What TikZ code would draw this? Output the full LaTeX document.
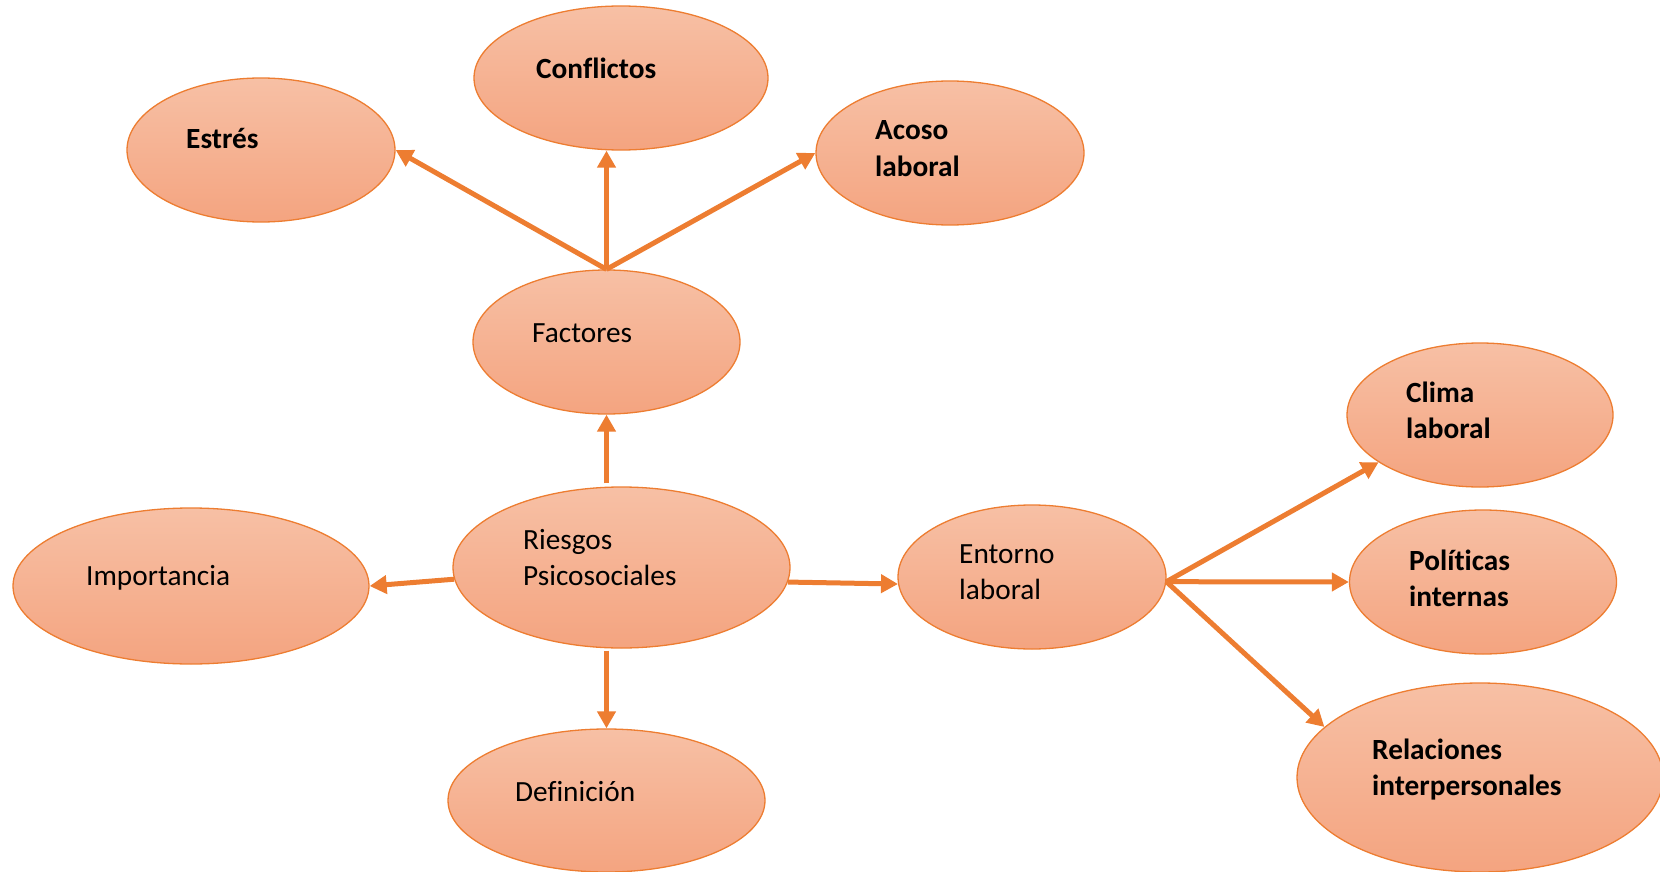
\documentclass[tikz,border=0pt]{standalone}
\usepackage{fontspec}
\setmainfont[Ligatures=NoCommon]{Carlito}
\usetikzlibrary{shapes.geometric,arrows.meta}
\definecolor{edgeor}{RGB}{237,125,49}
\definecolor{filltop}{RGB}{247,192,165}
\definecolor{fillbot}{RGB}{244,164,128}
\tikzset{
  bubble/.style={ellipse, draw=edgeor, line width=1.3pt, top color=filltop, bottom color=fillbot, inner sep=0pt},
  arr/.style={draw=edgeor, line width=5pt, -{Triangle[length=17pt,width=18pt]}},
  lbl/.style={anchor=base west, inner sep=0pt, font=\fontsize{29.3}{36}\selectfont, align=left},
  blbl/.style={lbl, font=\fontsize{29.3}{36}\selectfont\bfseries}
}
\begin{document}
\begin{tikzpicture}[x=1pt,y=-1pt]
\useasboundingbox (0,0) rectangle (1660,872);
% ellipses
\node[bubble, minimum width=268pt, minimum height=144pt] (est) at (261,150) {};
\node[bubble, minimum width=294pt, minimum height=144pt] (con) at (621,78) {};
\node[bubble, minimum width=268pt, minimum height=144pt] (aco) at (950,153) {};
\node[bubble, minimum width=267pt, minimum height=144pt] (fac) at (606.5,342) {};
\node[bubble, minimum width=337pt, minimum height=161pt] (ries) at (621.5,567.5) {};
\node[bubble, minimum width=356pt, minimum height=156pt] (imp) at (191,586) {};
\node[bubble, minimum width=317pt, minimum height=143pt] (def) at (606.5,800.5) {};
\node[bubble, minimum width=268pt, minimum height=144pt] (ent) at (1032,577) {};
\node[bubble, minimum width=266pt, minimum height=144pt] (cli) at (1480,415) {};
\node[bubble, minimum width=267pt, minimum height=144pt] (pol) at (1483,582) {};
\node[bubble, minimum width=366pt, minimum height=189pt] (rel) at (1480,777.5) {};
% texts (anchored at the baseline of the last line)
\node[blbl] (tEst) at (186,149) {Estrés};
\node[blbl] (tCon) at (536,79) {Conflictos};
\node[blbl] (tAco) at (875,176) {Acoso\\laboral};
\node[lbl] (tFac) at (532,342) {Factores};
\node[lbl] (tRies) at (523,585) {Riesgos\\Psicosociales};
\node[lbl] (tImp) at (86,585) {Importancia};
\node[lbl] (tDef) at (515,801) {Definición};
\node[lbl] (tEnt) at (959,599) {Entorno\\laboral};
\node[blbl] (tCli) at (1406,438) {Clima\\laboral};
\node[blbl] (tPol) at (1409,606) {Políticas\\internas};
\node[blbl] (tRel) at (1372,795) {Relaciones\\interpersonales};
% connectors
\draw[arr] (fac.north) -- (est.east);
\draw[arr] (fac.north) -- (fac.north |- con.south);
\draw[arr] (fac.north) -- (aco.west);
\draw[arr, shorten <=3pt] (fac.south |- ries.north) -- (fac.south);
\draw[arr, shorten <=2pt] (def.north |- ries.south) -- (def.north);
\draw[arr] (ries.184) -- (imp.east);
\draw[arr] (ries.-5) -- (ent.183);
\draw[arr] (ent.-2) -- (cli.205);
\draw[arr] (ent.-2) -- (pol.west);
\draw[arr] (ent.-2) -- (rel.162.5);
\end{tikzpicture}
\end{document}
